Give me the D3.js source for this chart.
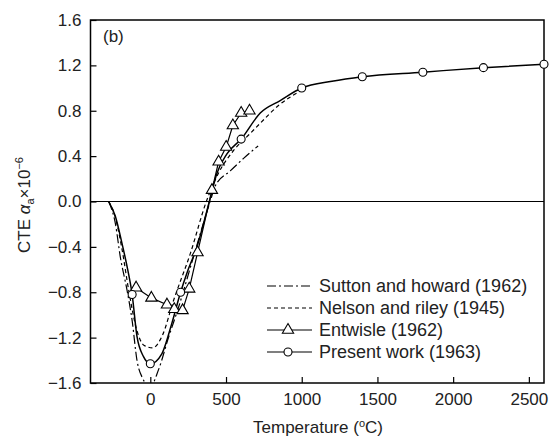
<!DOCTYPE html>
<html>
<head>
<meta charset="utf-8">
<script src="https://cdn.jsdelivr.net/npm/d3@7"></script>
<style>
  body { margin: 0; background: #fff; }
  text { font-family: 'Liberation Sans', Arial, sans-serif; fill: #222; }
</style>
</head>
<body>
<div id="chart"></div>
<script>
// curve knots
const presentT = [-275, -231, -187, -154, -120, -88, -44, 0, 77, 143, 200, 242, 308, 390, 440, 506, 600, 726, 858, 1000, 1200, 1400, 1800, 2200, 2600]
const presentV = [0, -0.13, -0.37, -0.57, -0.82, -1.19, -1.37, -1.43, -1.34, -1.07, -0.80, -0.63, -0.40, 0, 0.25, 0.42, 0.55, 0.78, 0.89, 1.0, 1.06, 1.10, 1.14, 1.18, 1.21]
const presentMarkT = [-120, 0, 200, 600, 1000, 1400, 1800, 2200, 2600]
const presentMarkV = [-0.82, -1.43, -0.80, 0.55, 1.0, 1.10, 1.14, 1.18, 1.21]

const suttonT = [-275, -230, -198, -154, -120, -88, -50, 0, 55, 120, 187, 300, 395, 430, 528, 616, 712]
const suttonV = [0, -0.2, -0.49, -0.78, -1.05, -1.40, -1.56, -1.63, -1.48, -1.20, -0.93, -0.42, 0, 0.14, 0.27, 0.38, 0.49]

const nelsonT = [-275, -231, -187, -143, -88, -40, 15, 80, 154, 264, 370, 450, 550, 660, 726, 850, 1000]
const nelsonV = [0, -0.14, -0.42, -0.78, -1.14, -1.27, -1.29, -1.18, -0.87, -0.46, 0, 0.25, 0.45, 0.60, 0.69, 0.85, 0.98]

const entwisleT = [-94, 7, 110, 158, 213, 257, 312, 407, 451, 501, 545, 600, 655]
const entwisleV = [-0.76, -0.85, -0.91, -0.95, -0.96, -0.77, -0.45, 0.10, 0.35, 0.48, 0.67, 0.78, 0.80]

const xTicks = [0, 500, 1000, 1500, 2000, 2500]
const yTicks = [-1.6, -1.2, -0.8, -0.4, 0.0, 0.4, 0.8, 1.2, 1.6]
const legendNames = ['Sutton and howard (1962)', 'Nelson and riley (1945)', 'Entwisle (1962)', 'Present work (1963)']

const width = 555
const height = 438
const margin = { top: 20, right: 11, bottom: 55, left: 90.5 }

const svg = d3.select('#chart')
  .append('svg')
  .attr('width', width)
  .attr('height', height)

const xScale = d3.scaleLinear()
  .domain([-395, 2600])
  .range([margin.left, width - margin.right])

const yScale = d3.scaleLinear()
  .domain([-1.6, 1.6])
  .range([height - margin.bottom, margin.top])

const zip = (xs, ys) => xs.map((x, i) => ({ x, y: ys[i] }))

svg.append('clipPath')
  .attr('id', 'clip')
  .append('rect')
  .attr('x', margin.left)
  .attr('y', margin.top)
  .attr('width', width - margin.right - margin.left)
  .attr('height', height - margin.bottom - margin.top)

// zero line
svg.append('line')
  .attr('x1', xScale(-395))
  .attr('x2', xScale(2600))
  .attr('y1', yScale(0))
  .attr('y2', yScale(0))
  .attr('stroke', '#000')
  .attr('stroke-width', 1.2)

// axes with inward ticks
const xAxis = svg.append('g')
  .attr('transform', `translate(0,${height - margin.bottom})`)
  .call(d3.axisBottom(xScale).tickValues(xTicks).tickSizeInner(-6).tickSizeOuter(0).tickPadding(10).tickFormat(d3.format('d')))
xAxis.select('.domain').remove()
xAxis.selectAll('text').attr('font-size', '17px').attr('fill', '#222').attr('font-family', 'Liberation Sans, Arial, sans-serif')
xAxis.selectAll('line').attr('stroke-width', 1.2)

const yAxis = svg.append('g')
  .attr('transform', `translate(${margin.left},0)`)
  .call(d3.axisLeft(yScale).tickValues(yTicks).tickSizeInner(-6).tickSizeOuter(0).tickPadding(9).tickFormat(d => d3.format('.1f')(d).replace('-', '\u2212')))
yAxis.select('.domain').remove()
yAxis.selectAll('text').attr('font-size', '17px').attr('fill', '#222').attr('font-family', 'Liberation Sans, Arial, sans-serif')
yAxis.selectAll('line').attr('stroke-width', 1.2)

// frame
svg.append('rect')
  .attr('x', margin.left)
  .attr('y', margin.top)
  .attr('width', width - margin.right - margin.left)
  .attr('height', height - margin.bottom - margin.top)
  .attr('fill', 'none')
  .attr('stroke', '#000')
  .attr('stroke-width', 1.5)

const smooth = d3.line()
  .x(d => xScale(d.x))
  .y(d => yScale(d.y))
  .curve(d3.curveMonotoneX)

const straight = d3.line()
  .x(d => xScale(d.x))
  .y(d => yScale(d.y))

const plot = svg.append('g').attr('clip-path', 'url(#clip)')

plot.append('path')
  .attr('d', smooth(zip(suttonT, suttonV)))
  .attr('fill', 'none')
  .attr('stroke', '#000')
  .attr('stroke-width', 1.2)
  .attr('stroke-dasharray', '9 3 2 3')

plot.append('path')
  .attr('d', smooth(zip(nelsonT, nelsonV)))
  .attr('fill', 'none')
  .attr('stroke', '#000')
  .attr('stroke-width', 1.2)
  .attr('stroke-dasharray', '4 3')

plot.append('path')
  .attr('d', straight(zip(entwisleT, entwisleV)))
  .attr('fill', 'none')
  .attr('stroke', '#000')
  .attr('stroke-width', 1.2)

plot.append('path')
  .attr('d', smooth(zip(presentT, presentV)))
  .attr('fill', 'none')
  .attr('stroke', '#000')
  .attr('stroke-width', 1.5)

const triangle = d3.symbol().type(d3.symbolTriangle).size(55)

svg.selectAll('.tri')
  .data(zip(entwisleT, entwisleV))
  .enter().append('path')
  .attr('class', 'tri')
  .attr('d', triangle)
  .attr('transform', d => `translate(${xScale(d.x)},${yScale(d.y)})`)
  .attr('fill', '#fff')
  .attr('stroke', '#000')
  .attr('stroke-width', 1.1)

svg.selectAll('.circ')
  .data(zip(presentMarkT, presentMarkV))
  .enter().append('circle')
  .attr('class', 'circ')
  .attr('cx', d => xScale(d.x))
  .attr('cy', d => yScale(d.y))
  .attr('r', 4)
  .attr('fill', '#fff')
  .attr('stroke', '#000')
  .attr('stroke-width', 1.1)

// legend
const legend = svg.append('g').attr('transform', 'translate(267,286)')
const dashes = ['9 3 2 3', '4 3', null, null]
legendNames.forEach((name, i) => {
  const row = legend.append('g').attr('transform', `translate(0,${i * 22})`)
  row.append('line')
    .attr('x1', 0).attr('x2', 45)
    .attr('stroke', '#000')
    .attr('stroke-width', 1.2)
    .attr('stroke-dasharray', dashes[i])
  if (i === 2) {
    row.append('path').attr('d', triangle).attr('transform', 'translate(21,0)')
      .attr('fill', '#fff').attr('stroke', '#000').attr('stroke-width', 1.1)
  }
  if (i === 3) {
    row.append('circle').attr('cx', 21).attr('r', 4)
      .attr('fill', '#fff').attr('stroke', '#000').attr('stroke-width', 1.1)
  }
  row.append('text')
    .attr('x', 52)
    .attr('dy', '0.35em')
    .attr('font-size', '18px')
    .text(name)
})

svg.append('text')
  .attr('x', 103)
  .attr('y', 42)
  .attr('font-size', '17px')
  .text('(b)')

svg.append('text')
  .attr('x', 318)
  .attr('y', 433)
  .attr('text-anchor', 'middle')
  .attr('font-size', '17px')
  .text('Temperature (')
  .append('tspan').attr('font-size', '11px').attr('dy', -6).text('o')
  .select(function () { return this.parentNode })
  .append('tspan').attr('dy', 6).text('C)')

const ylab = svg.append('text')
  .attr('transform', 'translate(30,205) rotate(-90)')
  .attr('text-anchor', 'middle')
  .attr('font-size', '17px')
ylab.append('tspan').text('CTE ')
ylab.append('tspan').attr('font-style', 'italic').text('α')
ylab.append('tspan').attr('font-size', '11px').attr('dy', 4).text('a')
ylab.append('tspan').attr('dy', -4).text('×10')
ylab.append('tspan').attr('font-size', '11px').attr('dy', -7).text('−6')
</script>
</body>
</html>
